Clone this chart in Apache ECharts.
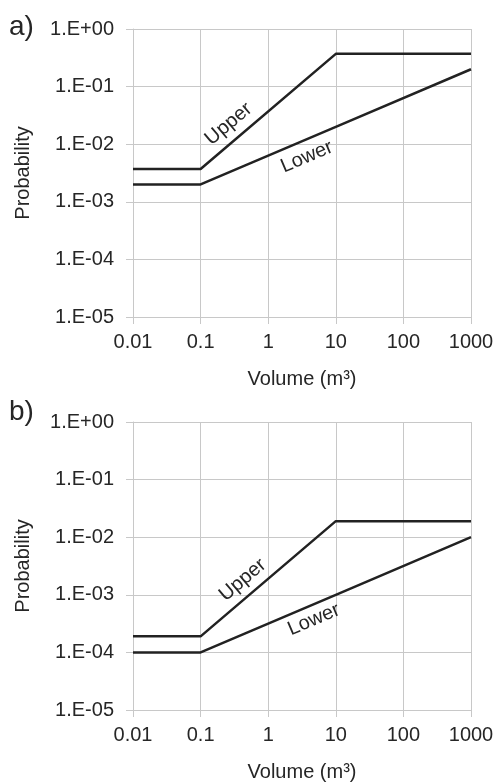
<!DOCTYPE html>
<html>
<head>
<meta charset="utf-8">
<script src="https://cdn.jsdelivr.net/npm/echarts@6/dist/echarts.min.js"></script>
<style>
html,body{margin:0;padding:0;background:#fff;}
#c{width:498px;height:783px;}
</style>
</head>
<body>
<div id="c"></div>
<script>
// ---- data ----
const volume = [0.01, 0.1, 10, 1000];
const upperA = [0.0037, 0.0037, 0.37, 0.37];
const lowerA = [0.002, 0.002, 0.02, 0.2];
const upperB = [0.00019, 0.00019, 0.019, 0.019];
const lowerB = [0.0001, 0.0001, 0.001, 0.01];
const xTicks = ['0.01', '0.1', '1', '10', '100', '1000'];
const yTicks = ['1.E-05', '1.E-04', '1.E-03', '1.E-02', '1.E-01', '1.E+00'];
const panelTitles = ['a)', 'b)'];
// label anchor positions (data coords) and rotation
const labelsA = [{text:'Upper', at:[0.26, 0.0225], rot:40}, {text:'Lower', at:[3.75, 0.006], rot:23}];
const labelsB = [{text:'Upper', at:[0.42, 0.00181], rot:40}, {text:'Lower', at:[4.76, 0.000369], rot:23}];

const FONT = '"Liberation Sans", Arial, sans-serif';
const TXT = '#262626';
const GRID = '#c8c8c8';

function xFmt(v){ return String(Number(Number(v).toPrecision(1))); }
function yFmt(v){
  const e = Math.round(Math.log10(v));
  return '1.E' + (e < 0 ? '-' : '+') + String(Math.abs(e)).padStart(2, '0');
}

function xAxis(idx){
  return {
    type:'log', logBase:10, min:0.01, max:1000, gridIndex:idx,
    name:'Volume (m³)', nameLocation:'middle', nameGap:52,
    nameTextStyle:{fontFamily:FONT, fontSize:20, color:TXT},
    axisLine:{show:true, lineStyle:{color:GRID, width:1}},
    axisTick:{show:true, length:7, lineStyle:{color:GRID}},
    splitLine:{show:true, lineStyle:{color:GRID, width:1}},
    minorTick:{show:false}, minorSplitLine:{show:false},
    axisLabel:{fontFamily:FONT, fontSize:20, color:TXT, margin:15, formatter:xFmt, showMinLabel:true, showMaxLabel:true}
  };
}
function yAxis(idx){
  return {
    type:'log', logBase:10, min:1e-5, max:1, gridIndex:idx,
    name:'Probability', nameLocation:'middle', nameGap:100, nameRotate:90,
    nameTextStyle:{fontFamily:FONT, fontSize:20, color:TXT},
    axisLine:{show:true, lineStyle:{color:GRID, width:1}},
    axisTick:{show:true, length:7, lineStyle:{color:GRID}},
    splitLine:{show:true, lineStyle:{color:GRID, width:1}},
    axisLabel:{fontFamily:FONT, fontSize:20, color:TXT, margin:19, formatter:yFmt, showMinLabel:true, showMaxLabel:true}
  };
}
function lineSeries(idx, ys, labels, lab){
  return {
    type:'line', xAxisIndex:idx, yAxisIndex:idx,
    data: volume.map((x,i)=>[x, ys[i]]),
    symbol:'none', silent:true,
    lineStyle:{color:'#222', width:2.5},
    markPoint:{
      symbol:'circle', symbolSize:0, silent:true,
      data:[{coord:labels[lab].at}],
      label:{show:true, position:'inside', formatter:labels[lab].text, rotate:labels[lab].rot,
             fontFamily:FONT, fontSize:20, color:TXT}
    }
  };
}

const chart = echarts.init(document.getElementById('c'), null, {renderer:'canvas'});
chart.setOption({
  backgroundColor:'#fff',
  animation:false,
  grid:[
    {left:133, top:29, width:338, height:288},
    {left:133, top:422, width:338, height:290}
  ],
  xAxis:[xAxis(0), xAxis(1)],
  yAxis:[yAxis(0), yAxis(1)],
  graphic:[
    {type:'text', left:9, top:13, style:{text:panelTitles[0], font:'28px '+FONT, fill:TXT}},
    {type:'text', left:9, top:398, style:{text:panelTitles[1], font:'28px '+FONT, fill:TXT}}
  ],
  series:[
    lineSeries(0, upperA, labelsA, 0),
    lineSeries(0, lowerA, labelsA, 1),
    lineSeries(1, upperB, labelsB, 0),
    lineSeries(1, lowerB, labelsB, 1)
  ]
});
</script>
</body>
</html>
